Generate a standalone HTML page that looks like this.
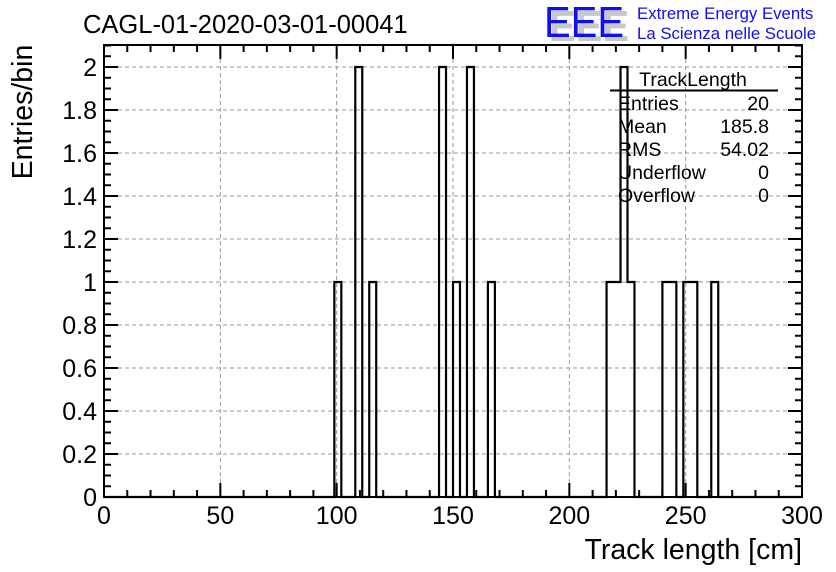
<!DOCTYPE html>
<html><head><meta charset="utf-8"><style>
html,body{margin:0;padding:0;background:#fff;}
svg{display:block;font-family:"Liberation Sans",sans-serif;}
</style></head><body>
<svg id="c" width="836" height="572" viewBox="0 0 836 572">
<g id="grid"></g>
<g id="hist"></g>
<g id="axes"></g>
<text x="83" y="33" font-size="25.5">CAGL-01-2020-03-01-00041</text>
<text transform="translate(32,112) rotate(-90)" text-anchor="middle" font-size="28.5">Entries/bin</text>
<text x="802" y="559" text-anchor="end" font-size="28.5">Track length [cm]</text>
<g>
<text x="549" y="41" font-size="44" fill="#c8c8c8" textLength="80" lengthAdjust="spacingAndGlyphs" font-weight="bold">EEE</text>
<text x="544" y="37" font-size="44" fill="#1010ee" textLength="80" lengthAdjust="spacingAndGlyphs">EEE</text>
<text x="637" y="19" font-size="16.8" fill="#1010ee">Extreme Energy Events</text>
<text x="637" y="39" font-size="16.8" fill="#1010ee">La Scienza nelle Scuole</text>
</g>
<g font-size="19.5">
<text x="693" y="86" text-anchor="middle">TrackLength</text>
<line x1="610" y1="90.5" x2="778" y2="90.5" stroke="#000" stroke-width="2"/>
<text x="618" y="110">Entries</text><text x="769" y="110" text-anchor="end">20</text>
<text x="618" y="133">Mean</text><text x="769" y="133" text-anchor="end">185.8</text>
<text x="618" y="156">RMS</text><text x="769" y="156" text-anchor="end">54.02</text>
<text x="618" y="179">Underflow</text><text x="769" y="179" text-anchor="end">0</text>
<text x="618" y="202">Overflow</text><text x="769" y="202" text-anchor="end">0</text>
</g>
</svg>
<script>
const binStarts=[99,108,114,144,150,156,165,216,219,222,225,240,243,249,252,261];
const binCounts=[1,2,1,2,1,2,1,1,1,2,1,1,1,1,1,1];
const binWidth=3;
const xTicks=[0,50,100,150,200,250,300];
const yTicks=[0,0.2,0.4,0.6,0.8,1,1.2,1.4,1.6,1.8,2];
const L=104,R=802,T=45,B=497;
const xs=v=>L+(v/300)*(R-L);
const ys=v=>B-v*215;
const NS='http://www.w3.org/2000/svg';
function mk(tag,attrs,parent){const e=document.createElementNS(NS,tag);for(const k in attrs)e.setAttribute(k,attrs[k]);parent.appendChild(e);return e;}
const grid=document.getElementById('grid'),hist=document.getElementById('hist'),axes=document.getElementById('axes');
xTicks.forEach(t=>{if(t>0&&t<300){const g=mk('line',{x1:xs(t),x2:xs(t),y1:T,y2:B,stroke:'#999','stroke-dasharray':'4,3'},grid);

}});
yTicks.forEach(t=>{if(t>0){const g=mk('line',{x1:L,x2:R,y1:ys(t),y2:ys(t),stroke:'#999','stroke-dasharray':'4,3'},grid);

}});
const allCounts=new Array(100).fill(0);
binStarts.forEach((s,i)=>{allCounts[Math.round(s/binWidth)]=binCounts[i];});
let d='M'+xs(0)+','+ys(0);
for(let i=0;i<100;i++){d+=' L'+xs(i*binWidth)+','+ys(allCounts[i])+' L'+xs((i+1)*binWidth)+','+ys(allCounts[i]);}
d+=' L'+xs(300)+','+ys(0);
const p=mk('path',{d:d,fill:'none',stroke:'#000','stroke-width':2.2},hist);


const f=mk('rect',{x:L,y:T,width:R-L,height:B-T,fill:'none',stroke:'#000','stroke-width':2},axes);


for(let v=0;v<=300;v+=10){const len=v%50===0?14:7;
mk('line',{x1:xs(v),x2:xs(v),y1:B,y2:B-len,stroke:'#000','stroke-width':2},axes);
mk('line',{x1:xs(v),x2:xs(v),y1:T,y2:T+len,stroke:'#000','stroke-width':2},axes);}
xTicks.forEach(t=>{const e=mk('text',{x:xs(t),y:B+27,'text-anchor':'middle','font-size':25},axes);e.textContent=t;

});
for(let i=0;i<=42;i++){const v=i*0.05;if(v>2.11)break;const len=i%4===0?14:7;
mk('line',{x1:L,x2:L+len,y1:ys(v),y2:ys(v),stroke:'#000','stroke-width':2},axes);
mk('line',{x1:R,x2:R-len,y1:ys(v),y2:ys(v),stroke:'#000','stroke-width':2},axes);}
yTicks.forEach(t=>{const e=mk('text',{x:L-7,y:ys(t)+9,'text-anchor':'end','font-size':25},axes);e.textContent=String(Math.round(t*10)/10);

});
</script>
</body></html>
